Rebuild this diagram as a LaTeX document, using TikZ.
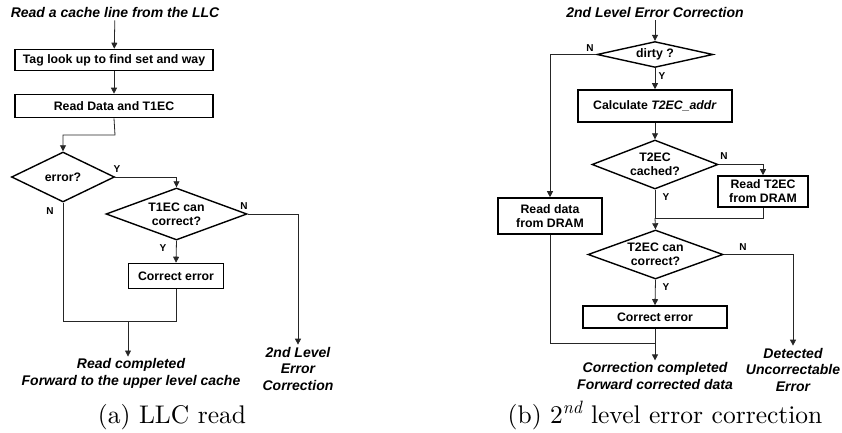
\documentclass[tikz,border=0pt]{standalone}
\usepackage{fontspec}
\newfontfamily\flowfont{Liberation Sans}
\newfontfamily\capfont{lmroman10-regular}[Extension=.otf,ItalicFont=lmroman10-italic]
\usetikzlibrary{shapes.geometric,arrows.meta}

\begin{document}
\begin{tikzpicture}[x=1pt,y=-1pt,
  box/.style={draw,line width=1.6pt,inner sep=0pt,align=center,
    font=\flowfont\bfseries\fontsize{12.3}{14}\selectfont},
  dia/.style={draw,diamond,line width=1.4pt,inner sep=0pt,aspect=2.6,align=center,
    font=\flowfont\bfseries\fontsize{12.3}{14}\selectfont},
  ttl/.style={inner sep=2pt,align=center,
    font=\flowfont\bfseries\itshape\fontsize{14}{16.5}\selectfont},
  yn/.style={inner sep=0pt,font=\flowfont\bfseries\fontsize{10}{12}\selectfont},
  subcap/.style={inner sep=0pt,anchor=base,font=\capfont\fontsize{25.5}{30}\selectfont},
  line/.style={draw=black!85,line width=0.8pt},
  arr/.style={line,-{Triangle[length=6pt,width=6pt]}}]
\useasboundingbox (0,0) rectangle (842,433);

% (a) LLC read
\node[ttl] (lread) at (115,13) {Read a cache line from the LLC};
\node[box,minimum width=198,minimum height=21] (tag) at (114,60) {Tag look up to find set and way};
\node[box,minimum width=198,minimum height=23] (rdata) at (114,106) {Read Data and T1EC};
\node[dia,minimum width=103,minimum height=50] (err) at (63,177) {error?};
\node[dia,minimum width=141,minimum height=52] (t1ec) at (176.5,214) {T1EC can\\correct?};
\node[box,minimum width=95,minimum height=25] (corr1) at (176,276) {Correct error};
\node[ttl] (done1) at (131,373.5) {Read completed\\Forward to the upper level cache};
\node[ttl] (l2nd) at (298,368.5) {2nd Level\\Error\\Correction};
\coordinate (b1) at (115,135);
\coordinate (m1) at (128,321);

\draw[arr] (lread) -- (tag);
\draw[arr] (tag) -- (rdata);
\draw[arr] (rdata.south) -- (b1) -| (err.north);
\draw[arr] (err.east) -| (t1ec.north);
\draw[arr] (t1ec.east) -| (l2nd.north);
\draw[arr] (t1ec.south) -- (corr1.north);
\draw[line] (err.south) |- (corr1.south |- m1) -- (corr1.south);
\draw[arr] (m1) -- (m1 |- done1.north);

\node[yn] (ya1) at (117,169) {Y};
\node[yn] (na1) at (50,211) {N};
\node[yn] (na2) at (244,206) {N};
\node[yn] (ya2) at (163,248) {Y};

\node[subcap] (capa) at (172,423) {(a) LLC read};

% (b) 2nd level error correction
\node[ttl] (l2title) at (655,13) {2nd Level Error Correction};
\node[dia,minimum width=116,minimum height=25] (dirty) at (655,54.5) {dirty ?};
\node[box,minimum width=154,minimum height=32] (calc) at (655,106) {Calculate \textit{T2EC\_addr}};
\node[dia,minimum width=126,minimum height=49] (cached) at (655,164.5) {T2EC\\cached?};
\node[box,minimum width=90,minimum height=31] (rdt2) at (763,191.5) {Read T2EC\\from DRAM};
\node[box,minimum width=104,minimum height=36] (rdram) at (550,216) {Read data\\from DRAM};
\node[dia,minimum width=135,minimum height=49] (t2ec) at (655.5,254.5) {T2EC can\\correct?};
\node[box,minimum width=144,minimum height=22] (corr2) at (655,317) {Correct error};
\node[ttl] (done2) at (655,376) {Correction completed\\Forward corrected data};
\node[ttl] (due) at (793,369.5) {Detected\\Uncorrectable\\Error};
\coordinate (m2) at (655,218);
\coordinate (m3) at (655,343);

\draw[arr] (l2title) -- (dirty);
\draw[arr] (dirty.west) -| (rdram.north);
\draw[arr] (dirty) -- (calc);
\draw[arr] (calc) -- (cached);
\draw[arr] (cached.east) -| (rdt2.north);
\draw[line] (cached.south) -- (m2);
\draw[line] (rdt2.south) |- (m2);
\draw[arr] (m2) -- (t2ec.north);
\draw[arr] (t2ec.east) -| (due.north);
\draw[arr] (t2ec.south) -- (corr2.north);
\draw[line] (rdram.south) |- (m3);
\draw[arr] (corr2.south) -- (done2.north);

\node[yn] (nb1) at (590,48) {N};
\node[yn] (yb1) at (662,76) {Y};
\node[yn] (nb2) at (724,156) {N};
\node[yn] (yb2) at (666,197) {Y};
\node[yn] (nb3) at (743,247) {N};
\node[yn] (yb3) at (666,287) {Y};

\node[subcap] (capb) at (665,423) {(b) 2\textsuperscript{\itshape nd} level error correction};
\end{tikzpicture}
\end{document}
